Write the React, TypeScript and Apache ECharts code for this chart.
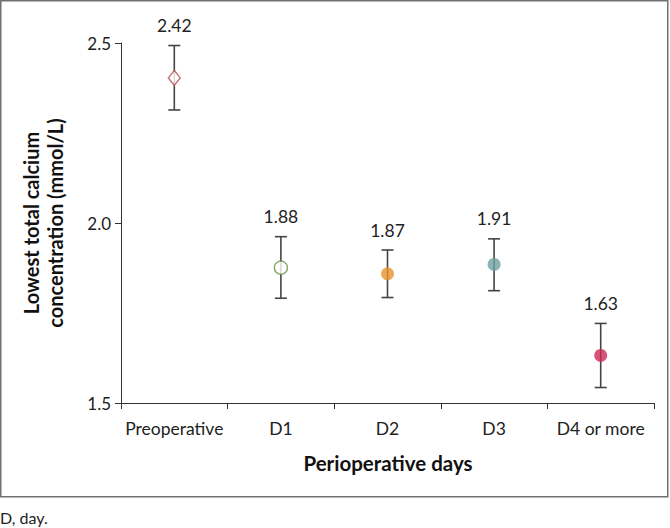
import React, { useEffect, useRef } from "react";
import * as echarts from "echarts";

const categories = ["Preoperative", "D1", "D2", "D3", "D4 or more"];
const means = [2.403, 1.876, 1.859, 1.885, 1.632];
const upper = [2.493, 1.962, 1.925, 1.956, 1.721];
const lower = [2.314, 1.791, 1.793, 1.812, 1.543];
const valueLabels = ["2.42", "1.88", "1.87", "1.91", "1.63"];
const yTicks = [1.5, 2.0, 2.5];

const markerColors = ["#b5524f", "#6a8f3a", "#e8942e", "#6fa0a0", "#cc2a55"];
const hollow = [true, true, false, false, false];
const symbols = ["diamond", "circle", "circle", "circle", "circle"];

const FONT = "Lato, 'Noto Sans', sans-serif";

export default function App() {
  const ref = useRef<HTMLDivElement>(null);
  useEffect(() => {
    if (!ref.current) return;
    const chart = echarts.init(ref.current, undefined, { renderer: "svg" });
    const errData = categories.map((c, i) => [i, lower[i], upper[i], valueLabels[i]]);
    chart.setOption({
      animation: false,
      backgroundColor: "#ffffff",
      grid: { left: 121, right: 16, top: 43, bottom: 125 },
      xAxis: {
        type: "category",
        data: categories,
        boundaryGap: true,
        axisLine: { lineStyle: { color: "#333", width: 1 } },
        axisTick: { show: true, interval: 0, length: 6, lineStyle: { color: "#333" } },
        axisLabel: { color: "#222", fontSize: 17.5, fontFamily: FONT, margin: 16, interval: 0 },
        splitLine: { show: false },
      },
      yAxis: {
        type: "value",
        min: yTicks[0],
        max: yTicks[yTicks.length - 1],
        interval: 0.5,
        axisLine: { show: true, lineStyle: { color: "#333", width: 1 } },
        axisTick: { show: true, length: 6, lineStyle: { color: "#333" } },
        axisLabel: {
          color: "#222",
          fontSize: 17,
          fontFamily: FONT,
          margin: 10,
          formatter: (v: number) => v.toFixed(1),
        },
        splitLine: { show: false },
      },
      graphic: [
        {
          type: "rect",
          shape: { x: 0.75, y: 0.75, width: 667, height: 496 },
          style: { fill: "none", stroke: "#707070", lineWidth: 1.5 },
          z: -1,
        },
        {
          type: "text",
          x: 43,
          y: 223,
          rotation: Math.PI / 2,
          style: {
            text: "Lowest total calcium\nconcentration (mmol/L)",
            fontSize: 20,
            fontWeight: "bold",
            fontFamily: FONT,
            fill: "#111",
            align: "center",
            verticalAlign: "middle",
            lineHeight: 24,
          },
        },
        {
          type: "text",
          x: 388,
          y: 463,
          style: {
            text: "Perioperative days",
            fontSize: 20.5,
            fontWeight: "bold",
            fontFamily: FONT,
            fill: "#111",
            align: "center",
            verticalAlign: "middle",
          },
        },
        {
          type: "text",
          x: 0,
          y: 517,
          style: {
            text: "D, day.",
            fontSize: 16,
            fontFamily: FONT,
            fill: "#222",
            align: "left",
            verticalAlign: "middle",
          },
        },
      ],
      series: [
        {
          type: "custom",
          data: errData,
          z: 2,
          renderItem: (params: any, api: any) => {
            const i = api.value(0);
            const lo = api.coord([i, api.value(1)]);
            const hi = api.coord([i, api.value(2)]);
            const x = lo[0];
            const cap = 6;
            const st = { stroke: "#444", lineWidth: 1.6 };
            return {
              type: "group",
              children: [
                { type: "line", shape: { x1: x, y1: hi[1], x2: x, y2: lo[1] }, style: st },
                { type: "line", shape: { x1: x - cap, y1: hi[1], x2: x + cap, y2: hi[1] }, style: st },
                { type: "line", shape: { x1: x - cap, y1: lo[1], x2: x + cap, y2: lo[1] }, style: st },
                {
                  type: "text",
                  x: x,
                  y: hi[1] - 20,
                  style: {
                    text: valueLabels[i],
                    fontSize: 17.5,
                    fontFamily: FONT,
                    fill: "#222",
                    align: "center",
                    verticalAlign: "middle",
                  },
                },
              ],
            };
          },
        },
        {
          type: "scatter",
          z: 3,
          data: means.map((m, i) => ({
            value: [i, m],
            symbol: symbols[i],
            symbolSize: i === 0 ? [12, 15] : 13,
            itemStyle: {
              color: hollow[i] ? "#ffffff" : markerColors[i],
              borderColor: markerColors[i],
              borderWidth: hollow[i] ? 1.4 : 0,
            },
          })),
        },
      ],
    });
    return () => chart.dispose();
  }, []);
  return (
    <div
      ref={ref}
      style={{ position: "fixed", left: 0, top: 0, width: 670, height: 528 }}
    />
  );
}
